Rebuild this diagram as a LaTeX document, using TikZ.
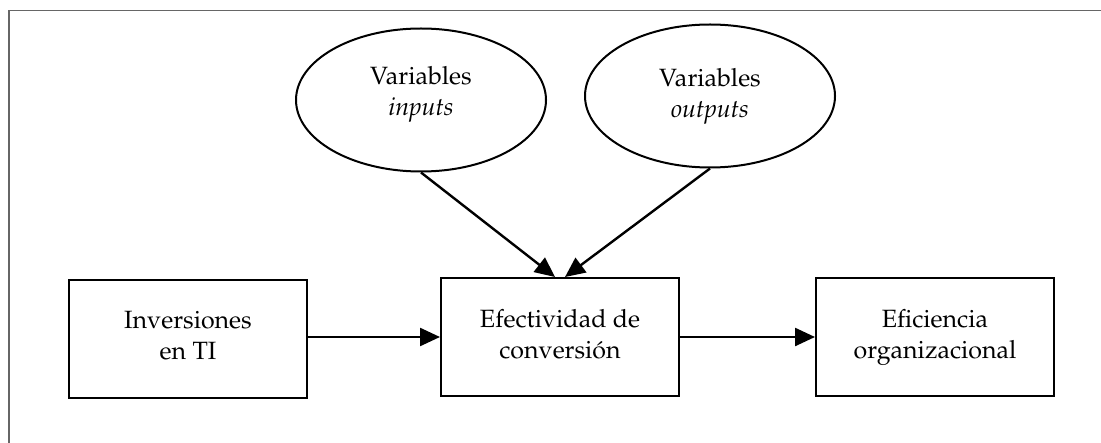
\documentclass[tikz,border=0pt]{standalone}
\usepackage[T1]{fontenc}
\usepackage{mathpazo}
\usepackage{tikz}
\usetikzlibrary{shapes,arrows.meta}

\begin{document}
\begin{tikzpicture}[
  x=0.5pt,
  y=-0.5pt,
  font=\fontsize{12.5}{15.5}\selectfont
]

  \path[use as bounding box] (0,0) rectangle (1101,443);

  \tikzstyle{boxnode}=[draw,rectangle,line width=1pt,minimum width=119pt,minimum height=59pt,inner sep=1mm,text depth=3.5pt,align=center]
  \tikzstyle{varnode}=[draw,ellipse,line width=1pt,minimum width=125pt,minimum height=71.5pt,inner sep=0pt,align=center]
  \tikzstyle{pointer}=[draw,->,>={Triangle[length=10pt,width=9pt]},line width=1.2pt]
  \tikzstyle{framelin}=[draw,black!60,line width=0.6pt]

  % frame
  \draw[framelin] (9,443) -- (9,10.5) -- (1101,10.5);

  % nodes
  \node[varnode,text depth=9pt] (vin)  at (421,100) {Variables\\\textit{inputs}};
  \node[varnode] (vout) at (710,96)  {Variables\\\textit{outputs}};

  \node[boxnode] (inv)  at (188,339) {Inversiones\\en TI};
  \node[boxnode] (conv) at (560,337) {Efectividad de\\conversi\'on};
  \node[boxnode] (efic) at (935,337) {Eficiencia\\organizacional};

  \coordinate (tipin)  at ([xshift=-2.5pt]conv.north);
  \coordinate (tipout) at ([xshift=2.5pt]conv.north);

  % pointers
  \draw[pointer] (inv.east |- conv.west) -- (conv.west);
  \draw[pointer] (conv) edge (efic);
  \draw[pointer] (vin.south)  -- (tipin);
  \draw[pointer] (vout.south) -- (tipout);

\end{tikzpicture}
\end{document}
